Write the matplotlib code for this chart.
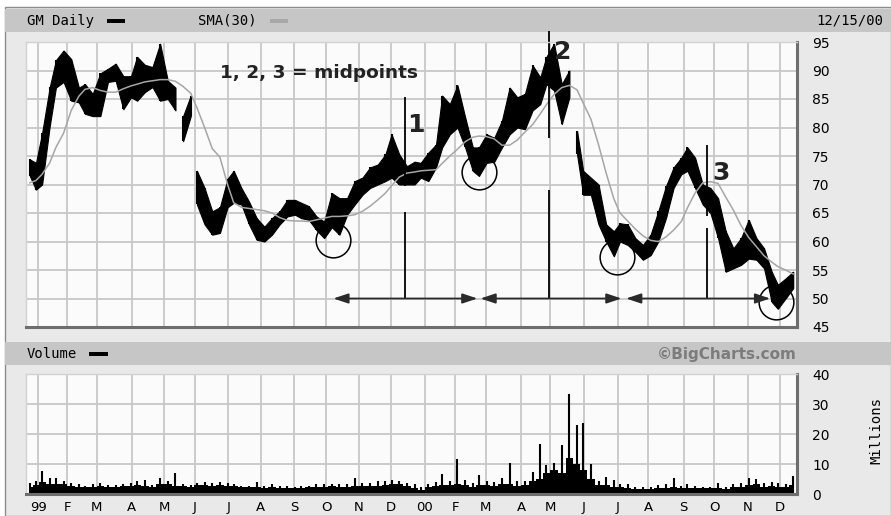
import numpy as np
import matplotlib.pyplot as plt
from matplotlib.patches import Rectangle

# NYSE-style trading calendar, Dec 1998 .. Dec 15 2000
start_day = np.datetime64('1998-12-21')
end_day = np.datetime64('2000-12-16')
holidays = np.array(['1998-12-25', '1999-01-01', '1999-01-18', '1999-02-15', '1999-04-02',
                     '1999-05-31', '1999-07-05', '1999-09-06', '1999-11-25', '1999-12-24',
                     '2000-01-17', '2000-02-21', '2000-04-21', '2000-05-29', '2000-07-04',
                     '2000-09-04', '2000-11-23'], dtype='datetime64[D]')

# weekly price range (GM daily bars, read per week)
price_low = [71.5, 69.1, 70.0, 80.3, 87.0, 88.0, 84.7, 84.4, 82.4, 82.0,
             82.0, 88.0, 88.2, 83.2, 85.3, 84.7, 86.2, 87.1, 84.7, 85.0,
             83.0, 77.6, 82.0, 66.5, 63.0, 61.2, 61.5, 66.0, 66.8, 66.5,
             63.0, 60.3, 60.0, 61.2, 63.0, 64.4, 64.7, 64.1, 63.8, 62.0,
             60.6, 62.5, 61.2, 64.7, 66.5, 68.2, 69.4, 70.0, 70.6, 71.2,
             70.0, 70.0, 70.0, 71.2, 70.6, 73.0, 76.5, 78.8, 80.0, 76.5,
             72.4, 71.5, 73.8, 74.0, 76.5, 78.8, 80.0, 79.7, 83.0, 84.1,
             87.6, 86.5, 80.6, 85.3, 75.3, 68.2, 68.2, 63.0, 60.0, 57.4,
             60.0, 59.4, 58.2, 56.8, 57.6, 60.0, 64.1, 69.4, 71.8, 72.4,
             69.4, 66.5, 65.0, 60.6, 54.7, 55.3, 55.9, 57.0, 56.8, 55.3,
             49.4, 48.2, 50.0, 51.8]
price_high = [74.4, 73.8, 79.0, 87.1, 91.8, 93.5, 92.0, 87.0, 87.6, 85.9,
              89.5, 90.3, 91.2, 89.0, 89.0, 92.4, 91.0, 90.6, 94.7, 88.2,
              87.0, 82.0, 85.6, 72.4, 69.4, 65.3, 66.0, 71.0, 72.4, 69.4,
              67.0, 64.1, 62.6, 64.1, 65.3, 67.3, 67.3, 66.8, 66.2, 64.4,
              63.5, 68.5, 67.6, 67.6, 70.6, 71.2, 73.0, 73.5, 75.3, 78.8,
              75.3, 73.2, 74.0, 73.8, 75.6, 77.0, 85.6, 84.1, 87.4, 81.8,
              76.5, 76.5, 78.8, 78.2, 81.2, 87.0, 85.3, 85.9, 90.9, 88.8,
              92.4, 94.7, 87.6, 90.0, 79.4, 72.4, 71.2, 70.0, 63.0, 61.8,
              63.2, 63.0, 60.6, 59.4, 61.2, 65.3, 69.7, 73.0, 74.7, 76.5,
              74.7, 70.0, 69.4, 67.6, 61.8, 58.8, 60.6, 63.8, 60.6, 58.8,
              54.7, 52.4, 53.5, 54.7]
gap_after = [20, 22, 73]   # weeks followed by a price gap

sma30 = [70.3, 70.7, 71.8, 73.8, 76.5, 79.0, 83.0, 85.5, 86.7, 87.0,
         86.5, 86.2, 86.2, 86.8, 87.3, 87.6, 88.0, 88.2, 88.4, 88.4,
         88.1, 87.2, 86.0, 83.5, 80.0, 76.3, 74.8, 70.0, 66.8, 66.0,
         65.8, 65.6, 65.4, 65.0, 64.2, 63.7, 63.6, 63.6, 63.5, 63.8,
         64.1, 64.4, 64.4, 64.5, 64.7, 65.3, 66.2, 67.3, 68.5, 69.8,
         71.3, 72.0, 72.2, 72.4, 72.5, 72.6, 73.7, 75.0, 76.2, 77.5,
         78.3, 78.5, 78.4, 78.0, 76.9, 76.9, 77.8, 79.2, 80.5, 82.4,
         84.0, 85.8, 87.0, 87.4, 86.6, 84.3, 81.5, 77.0, 72.0, 67.5,
         65.0, 63.6, 62.2, 61.0, 60.2, 60.0, 60.8, 62.0, 63.5, 65.9,
         68.5, 70.3, 70.5, 70.2, 67.8, 65.5, 62.8, 60.7, 59.1, 57.5,
         56.4, 55.6, 55.0, 54.3]

# weekly volume (millions): typical level and highest day
vol_base = [2.5, 3.0, 4.0, 3.5, 3.5, 3.2, 2.8, 2.4, 2.3, 2.4,
            2.6, 2.2, 2.3, 2.6, 2.8, 3.0, 2.8, 2.4, 3.5, 3.4,
            2.8, 2.6, 2.4, 3.0, 3.0, 2.8, 3.0, 2.7, 2.6, 2.2,
            2.2, 2.4, 2.0, 2.2, 2.0, 2.0, 2.0, 2.1, 2.2, 2.2,
            2.3, 2.6, 2.4, 2.5, 2.8, 2.6, 2.6, 2.8, 3.0, 3.4,
            3.3, 2.8, 2.0, 1.5, 2.2, 2.6, 3.0, 3.0, 3.5, 3.0,
            2.5, 3.0, 3.0, 2.8, 3.2, 3.5, 2.8, 3.0, 4.5, 5.0,
            7.0, 8.0, 7.0, 12.0, 10.0, 8.0, 5.0, 3.0, 3.0, 2.5,
            2.2, 2.0, 1.8, 1.7, 1.7, 2.0, 2.1, 2.2, 2.0, 2.1,
            1.9, 1.9, 1.9, 2.0, 1.8, 2.4, 2.2, 3.0, 3.2, 2.5,
            2.6, 2.3, 2.5, 3.0]
vol_peak = [3.8, 4.5, 7.7, 5.3, 5.5, 4.5, 3.8, 3.2, 2.8, 3.2,
            3.8, 3.0, 3.0, 3.4, 3.8, 4.2, 4.6, 3.0, 5.2, 4.5,
            7.1, 3.3, 3.0, 3.8, 4.0, 3.8, 4.0, 3.6, 3.2, 2.8,
            2.6, 3.9, 2.6, 3.2, 2.6, 2.8, 2.4, 2.6, 2.8, 3.2,
            3.3, 3.5, 3.2, 3.5, 5.4, 3.8, 3.8, 4.2, 4.5, 4.8,
            4.5, 3.8, 3.5, 2.5, 3.3, 4.0, 6.7, 4.5, 11.8, 4.6,
            3.8, 6.2, 4.5, 4.0, 5.2, 10.4, 4.2, 4.5, 7.3, 16.6,
            9.8, 10.3, 16.3, 33.3, 23.0, 23.8, 10.0, 4.5, 5.6, 4.6,
            3.2, 3.4, 2.5, 2.4, 2.3, 3.0, 3.5, 5.5, 2.8, 3.3,
            2.6, 2.5, 2.5, 3.6, 2.4, 3.5, 3.6, 5.4, 5.0, 3.8,
            4.0, 3.8, 3.5, 5.9]

# annotations
mid_dates = ['1999-12-14', '2000-04-28', '2000-09-25']
mid_tops = [85.3, 96.9, 76.9]
mid_breaks = [(69.8, 65.2), (78.1, 69.0), (64.5, 62.3)]   # white breaks in the marker lines
mid_labels = ['1', '2', '3']
mid_label_y = [80.4, 93.2, 72.1]
mid_label_dx = [1, 3.5, 3.5]
arrow_level = 50
circle_dates = ['1999-10-07', '2000-02-23', '2000-06-30', '2000-11-28']
circle_prices = [60.3, 72.2, 57.2, 49.3]
arrow_spans = [('1999-10-07', '2000-02-22'), ('2000-02-24', '2000-07-06'),
               ('2000-07-11', '2000-11-21')]
month_labels = ['99', 'F', 'M', 'A', 'M', 'J', 'J', 'A', 'S', 'O', 'N', 'D',
                '00', 'F', 'M', 'A', 'M', 'J', 'J', 'A', 'S', 'O', 'N', 'D']


def pos(d):
    return np.busday_count(start_day, np.asarray(d, dtype='datetime64[D]'), holidays=holidays)


n_days = pos(end_day)
week_x = pos(start_day + 2 + 7 * np.arange(len(price_low)))
month_x = pos(np.arange('1999-01', '2001-01', dtype='datetime64[M]').astype('datetime64[D]')) - 0.5

price_low = np.array(price_low)
price_high = np.array(price_high)

W, H = 891, 516
fig = plt.figure(figsize=(W / 100, H / 100), dpi=100, facecolor='white')


def box(x0, y0, x1, y1, z=-10, **kw):
    fig.patches.append(Rectangle((x0 / W, 1 - y1 / H), (x1 - x0) / W, (y1 - y0) / H,
                                 transform=fig.transFigure, figure=fig, zorder=z, **kw))


box(5, 7, 891, 516, facecolor='#e9e9e9', edgecolor='#8c8c8c', lw=1)
box(5, 9, 891, 32, facecolor='#c6c6c6', edgecolor='none', z=-9)
box(5, 342, 891, 365, facecolor='#c6c6c6', edgecolor='none', z=-9)

ax = fig.add_axes([26 / W, 1 - 327 / H, 771 / W, 285 / H])
axv = fig.add_axes([26 / W, 1 - 494 / H, 771 / W, 120 / H])

for a in (ax, axv):
    a.set_facecolor('#fbfbfb')
    a.set_xlim(-0.5, n_days - 0.5)
    a.set_xticks(month_x)
    a.grid(True, color='#c8c8c8', lw=1.3)
    a.set_axisbelow(True)
    a.tick_params(length=0, labelleft=False, labelright=True, labelsize=10, pad=11)
    for s in ('bottom', 'right'):
        a.spines[s].set_color('#6e6e6e')
        a.spines[s].set_linewidth(2.2)
    for s in ('top', 'left'):
        a.spines[s].set_color('#d2d2d2')
        a.spines[s].set_linewidth(1)

# price panel
ax.set_ylim(45, 95)
ax.set_yticks(range(45, 96, 5))
ax.tick_params(labelbottom=False)
for seg in np.split(np.arange(len(price_low)), np.array(gap_after) + 1):
    ax.fill_between(week_x[seg], price_low[seg], price_high[seg],
                    facecolor='black', edgecolor='black', lw=0.8)
ax.vlines(week_x, price_low, price_high, color='black', lw=1.5)
ax.plot(week_x, sma30, color='#a6a6a6', lw=1.1)

mx = pos(mid_dates)
for x, top, (b_hi, b_lo) in zip(mx, mid_tops, mid_breaks):
    ax.vlines([x, x], [b_hi, arrow_level], [top, b_lo], color='black', lw=1.3, clip_on=False)
for x, lab, y, dx in zip(mx, mid_labels, mid_label_y, mid_label_dx):
    ax.annotate(lab, (x, y), xytext=(dx, 0), textcoords='offset points', ha='left',
                va='center', fontsize=18, fontweight='bold', family='DejaVu Sans', color='#222222')
ax.plot(pos(circle_dates), circle_prices, 'o', ms=25, mfc='none', mec='black', mew=1.1)
for a0, a1 in arrow_spans:
    ax.annotate('', xy=(pos(a1), arrow_level), xytext=(pos(a0), arrow_level),
                arrowprops=dict(arrowstyle='<|-|>,head_length=0.9,head_width=0.3',
                                color='#2a2a2a', lw=1.3, shrinkA=0, shrinkB=0))
ax.text(0.2516, 0.891, '1, 2, 3 = midpoints', transform=ax.transAxes, ha='left', va='center',
        fontsize=13.3, fontweight='bold', color='#222222')

# volume panel
axv.set_ylim(0, 40)
axv.set_yticks(range(0, 41, 10))
axv.set_xticklabels(month_labels)
axv.tick_params(axis='x', labelsize=9.5, pad=5)
axv.fill_between(week_x, 0, vol_base, step='mid', color='black', lw=0)
axv.vlines(week_x, 0, vol_peak, color='black', lw=1.5)

# header texts
mono = 'DejaVu Sans Mono'
fig.text(27 / W, 1 - 21 / H, 'GM Daily', family=mono, fontsize=10, va='center')
box(107, 19, 125, 23, facecolor='black', edgecolor='none', z=-8)
fig.text(198 / W, 1 - 21 / H, 'SMA(30)', family=mono, fontsize=10, va='center')
box(270, 19, 288, 23, facecolor='#a8a8a8', edgecolor='none', z=-8)
fig.text(883 / W, 1 - 21 / H, '12/15/00', family=mono, fontsize=10, va='center', ha='right')
fig.text(27 / W, 1 - 354 / H, 'Volume', family=mono, fontsize=10, va='center')
box(89, 352, 108, 356, facecolor='black', edgecolor='none', z=-8)
fig.text(797 / W, 1 - 354 / H, '©BigCharts.com', fontsize=11, fontweight='bold',
         color='#7c7c7c', va='center', ha='right')
fig.text(876 / W, 1 - 430 / H, 'Millions', family=mono, fontsize=10, va='center',
         ha='center', rotation=90)

fig.savefig('out.png', dpi=100, facecolor=fig.get_facecolor())
